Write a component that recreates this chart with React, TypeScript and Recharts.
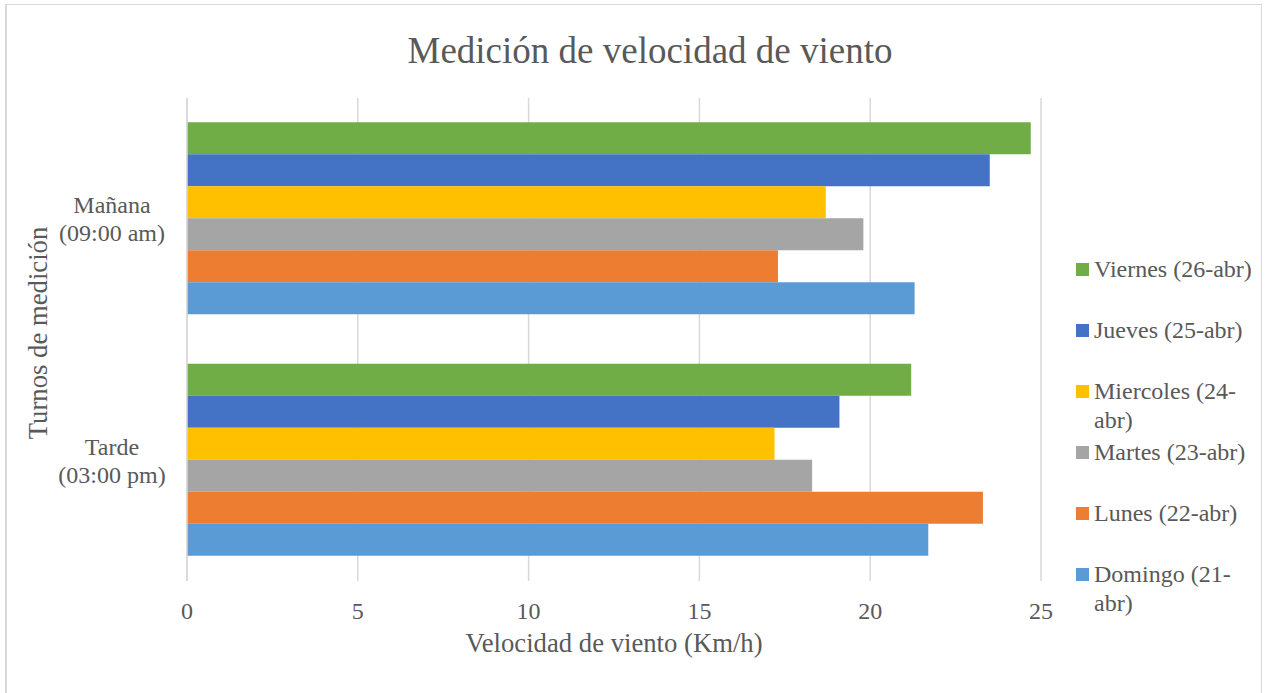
import { BarChart, Bar, XAxis, YAxis, CartesianGrid, Customized } from 'recharts'

const turnos = ['Mañana (09:00 am)', 'Tarde (03:00 pm)']
const tickLines: Record<string, string[]> = {
  'Mañana (09:00 am)': ['Mañana', '(09:00 am)'],
  'Tarde (03:00 pm)': ['Tarde', '(03:00 pm)'],
}

const viernes = [24.7, 21.2]
const jueves = [23.5, 19.1]
const miercoles = [18.7, 17.2]
const martes = [19.8, 18.3]
const lunes = [17.3, 23.3]
const domingo = [21.3, 21.7]

const xTicks = [0, 5, 10, 15, 20, 25]

// top-to-bottom order, same as the legend
const series = [
  { key: 'viernes', name: 'Viernes (26-abr)', lines: ['Viernes (26-abr)'], color: '#70AD47', values: viernes },
  { key: 'jueves', name: 'Jueves (25-abr)', lines: ['Jueves (25-abr)'], color: '#4472C4', values: jueves },
  { key: 'miercoles', name: 'Miercoles (24-abr)', lines: ['Miercoles (24-', 'abr)'], color: '#FFC000', values: miercoles },
  { key: 'martes', name: 'Martes (23-abr)', lines: ['Martes (23-abr)'], color: '#A5A5A5', values: martes },
  { key: 'lunes', name: 'Lunes (22-abr)', lines: ['Lunes (22-abr)'], color: '#ED7D31', values: lunes },
  { key: 'domingo', name: 'Domingo (21-abr)', lines: ['Domingo (21-', 'abr)'], color: '#5B9BD5', values: domingo },
]

const data = turnos.map((turno, i) => {
  const row: Record<string, string | number> = { turno }
  series.forEach((s) => { row[s.key] = s.values[i] })
  return row
})

const FONT = '"Liberation Serif", "Times New Roman", serif'
const TEXT = '#595959'
const GRID = '#D9D9D9'

function TurnoTick({ y, payload }: any) {
  const lines = tickLines[payload.value] ?? [payload.value]
  return (
    <text x={112} y={y} textAnchor="middle" fill={TEXT} fontFamily={FONT} fontSize={24}>
      {lines.map((l, i) => (
        <tspan key={i} x={112} dy={i === 0 ? -5.5 : 28}>{l}</tspan>
      ))}
    </text>
  )
}

function LegendBox() {
  return (
    <div style={{ position: 'absolute', left: 1076, top: 255, width: 190, fontFamily: FONT, fontSize: 24, color: TEXT }}>
      {series.map((s) => (
        <div key={s.key} style={{ position: 'relative', height: 61, lineHeight: '28.5px' }}>
          <span style={{ position: 'absolute', left: 0, top: 8, width: 13, height: 13, background: s.color }} />
          <div style={{ marginLeft: 18 }}>
            {s.lines.map((l, i) => <div key={i}>{l}</div>)}
          </div>
        </div>
      ))}
    </div>
  )
}

function Title() {
  return (
    <text x={650} y={63} textAnchor="middle" fill={TEXT} fontFamily={FONT} fontSize={37}>
      Medición de velocidad de viento
    </text>
  )
}

export default function App() {
  return (
    <div style={{ position: 'absolute', left: 0, top: 0, width: 1267, height: 693, background: '#fff', overflow: 'hidden' }}>
      <div style={{ position: 'absolute', left: 5, top: 4, width: 1254, height: 700, borderLeft: '2px solid ' + GRID, borderTop: '1px solid ' + GRID, borderRight: '1px solid ' + GRID }} />
      <BarChart
        width={1267}
        height={693}
        data={data}
        layout="vertical"
        margin={{ top: 98, right: 226, bottom: 0, left: 0 }}
        barCategoryGap="10%"
        barGap={0}
        style={{ position: 'absolute', left: 0, top: 0 }}
      >
        <CartesianGrid horizontal={false} stroke={GRID} strokeWidth={1.5} />
        <XAxis
          type="number"
          domain={[0, 25]}
          ticks={xTicks}
          interval={0}
          axisLine={false}
          tickLine={false}
          tickMargin={15}
          height={112}
          tick={{ fill: TEXT, fontFamily: FONT, fontSize: 24 }}
          label={({ viewBox }: any) => (
            <text x={viewBox.x + viewBox.width / 2} y={652} textAnchor="middle" fill={TEXT} fontFamily={FONT} fontSize={26.7}>
              Velocidad de viento (Km/h)
            </text>
          )}
        />
        <YAxis
          type="category"
          dataKey="turno"
          width={187}
          axisLine={{ stroke: GRID, strokeWidth: 1.5 }}
          tickLine={false}
          tick={<TurnoTick />}
          label={() => (
            <text x={47} y={333} transform="rotate(-90, 47, 333)" textAnchor="middle" fill={TEXT} fontFamily={FONT} fontSize={26.7}>
              Turnos de medición
            </text>
          )}
        />
        {series.map((s) => (
          <Bar key={s.key} dataKey={s.key} name={s.name} fill={s.color} isAnimationActive={false} />
        ))}
        <Customized component={<Title />} />
      </BarChart>
      <LegendBox />
    </div>
  )
}
